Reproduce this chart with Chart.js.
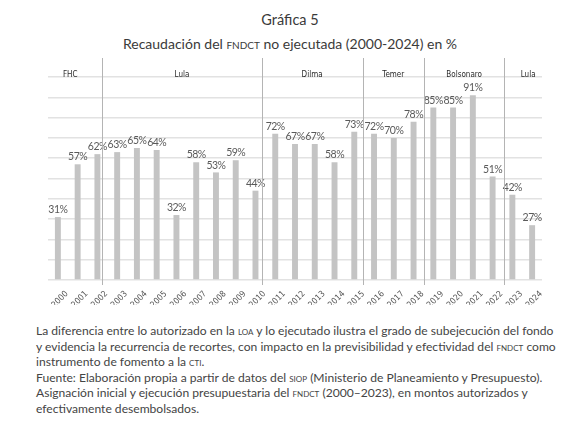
<!DOCTYPE html>
<html lang="es">
<head>
<meta charset="utf-8">
<script src="https://cdn.jsdelivr.net/npm/chart.js@4"></script>
<style>
  body { margin: 0; width: 580px; height: 426px; background: #fff; overflow: hidden; position: relative; font-family: Lato, "Noto Sans", sans-serif; color: #3a3a3a; }
  .sc { font-variant: small-caps; }
  #t1 { position: absolute; top: 11px; left: 0; width: 580px; text-align: center; font-size: 14.5px; }
  #t2 { position: absolute; top: 35px; left: 0; width: 580px; text-align: center; font-size: 14px; }
  #wrap { position: absolute; left: 0; top: 55px; width: 580px; height: 250px; }
  #nota { position: absolute; left: 36px; top: 323px; font-size: 12.1px; line-height: 15.5px; color: #444; white-space: nowrap; }
</style>
</head>
<body>
<div id="t1">Gráfica 5</div>
<div id="t2">Recaudación del <span class="sc">fndct</span> no ejecutada (2000-2024) en %</div>
<div id="wrap"><canvas id="grafica"></canvas></div>
<div id="nota">
La diferencia entre lo autorizado en la <span class="sc">loa</span> y lo ejecutado ilustra el grado de subejecución del fondo<br>
y evidencia la recurrencia de recortes, con impacto en la previsibilidad y efectividad del <span class="sc">fndct</span> como<br>
instrumento de fomento a la <span class="sc">cti</span>.<br>
Fuente: Elaboración propia a partir de datos del <span class="sc">siop</span> (Ministerio de Planeamiento y Presupuesto).<br>
Asignación inicial y ejecución presupuestaria del <span class="sc">fndct</span> (2000–2023), en montos autorizados y<br>
efectivamente desembolsados.
</div>
<script>
// datos
const anios = ['2000', '2001', '2002', '2003', '2004', '2005', '2006', '2007', '2008', '2009', '2010', '2011', '2012',
               '2013', '2014', '2015', '2016', '2017', '2018', '2019', '2020', '2021', '2022', '2023', '2024'];
const noEjecutado = [31, 57, 62, 63, 65, 64, 32, 58, 53, 59, 44, 72, 67, 67, 58, 73, 72, 70, 78, 85, 85, 91, 51, 42, 27];
const gobiernos = ['FHC', 'Lula', 'Dilma', 'Temer', 'Bolsonaro', 'Lula'];
// cambio de gobierno, en posiciones del eje de categorias
const cambios = [2.25, 10.31, 15.42, 18.53, 22.59];

const condensed = '"Liberation Sans Narrow", "DejaVu Sans Condensed", sans-serif';

const extras = {
    id: 'extras',
    afterDatasetsDraw(chart) {
        const ctx = chart.ctx;
        const x = chart.scales.x;
        const area = chart.chartArea;
        const paso = x.getPixelForValue(1) - x.getPixelForValue(0);

        // etiquetas de valor
        ctx.save();
        ctx.font = '10.5px Lato, "Noto Sans", sans-serif';
        ctx.letterSpacing = '-0.5px';
        ctx.fillStyle = '#5a5a5a';
        ctx.textAlign = 'center';
        ctx.textBaseline = 'bottom';
        chart.getDatasetMeta(0).data.forEach((bar, i) => {
            ctx.fillText(noEjecutado[i] + '%', bar.x, bar.y - 2);
        });
        ctx.restore();

        // lineas de cambio de gobierno
        const xs = cambios.map(c => x.getPixelForValue(0) + c * paso);
        ctx.save();
        ctx.strokeStyle = '#b4b4b4';
        ctx.lineWidth = 1;
        xs.forEach(px => {
            ctx.beginPath();
            ctx.moveTo(Math.round(px) + 0.5, area.top - 19);
            ctx.lineTo(Math.round(px) + 0.5, area.bottom + 5);
            ctx.stroke();
        });

        // nombres de gobierno
        const limites = [area.left - 10, ...xs, area.right + 10];
        ctx.font = '8px ' + condensed;
        ctx.fillStyle = '#2a2a2a';
        ctx.textAlign = 'center';
        ctx.textBaseline = 'alphabetic';
        gobiernos.forEach((g, i) => {
            ctx.fillText(g, (limites[i] + limites[i + 1]) / 2, area.top - 0.5);
        });
        ctx.restore();
    }
};

new Chart(document.getElementById('grafica'), {
    type: 'bar',
    data: {
        labels: anios,
        datasets: [{
            data: noEjecutado,
            backgroundColor: '#c4c4c4',
            barPercentage: 0.6,
            categoryPercentage: 0.5
        }]
    },
    options: {
        responsive: true,
        maintainAspectRatio: false,
        animation: false,
        layout: { padding: { left: 48, right: 38, top: 22, bottom: 0 } },
        plugins: {
            legend: { display: false },
            tooltip: { enabled: false }
        },
        scales: {
            x: {
                grid: { display: false },
                border: { display: false },
                ticks: {
                    autoSkip: false,
                    minRotation: 45,
                    maxRotation: 45,
                    padding: 1,
                    labelOffset: 9,
                    color: '#555',
                    font: { family: condensed, size: 8.5 }
                },
                afterFit: axis => { axis.height = 25; }
            },
            y: {
                min: 0,
                max: 100,
                ticks: { display: false, stepSize: 10 },
                border: { display: false },
                grid: { color: '#e2e2e2', lineWidth: 1.5, drawTicks: false },
                afterFit: axis => { axis.width = 0; }
            }
        }
    },
    plugins: [extras]
});
</script>
</body>
</html>
